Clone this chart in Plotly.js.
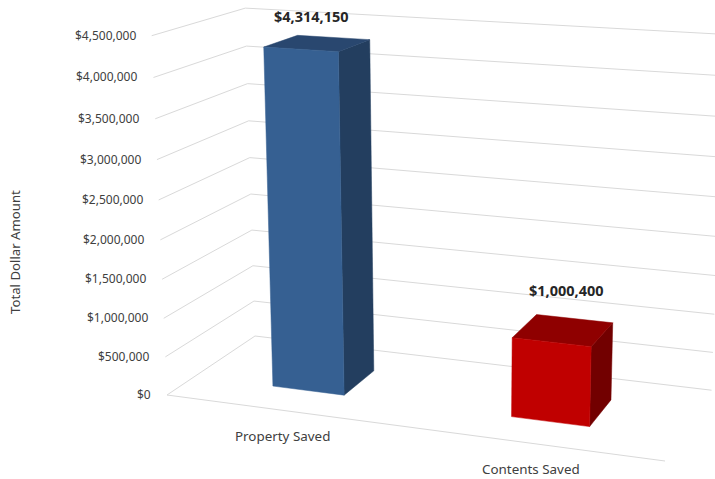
<!DOCTYPE html>
<html>
<head>
<meta charset="utf-8">
<script src="https://cdn.plot.ly/plotly-3.0.1.min.js"></script>
<style>html,body{margin:0;padding:0;background:#fff}</style>
</head>
<body>
<div id="chart" style="width:715px;height:479px"></div>
<script>
// Data
const categories = ["Property Saved", "Contents Saved"];
const values = [4314150, 1000400];
const valueLabels = ["$4,314,150", "$1,000,400"];
const tickValues = [0, 500000, 1000000, 1500000, 2000000, 2500000, 3000000, 3500000, 4000000, 4500000];
const tickLabels = ["$0", "$500,000", "$1,000,000", "$1,500,000", "$2,000,000", "$2,500,000", "$3,000,000", "$3,500,000", "$4,000,000", "$4,500,000"];
const axisTitle = "Total Dollar Amount";
const axisMax = 4500000;

// Styles
const faceColors = [
  {front: "#366092", top: "#29476F", side: "#233E5F"},
  {front: "#C00000", top: "#8F0000", side: "#720000"}
];
const gridColor = "#D9D9D9";
const textColor = "#404040";
const boldColor = "#262626";
const fontFamily = '"Noto Sans", sans-serif';

// Projective camera: u across categories, d depth, v value, all scaled 0..1
const cam = {
  o: [167, 395], uEnd: [665, 461], dEnd: [255, 336], hEnd: [151.7, 35.7],
  a: -0.09, b: 0.10, c: -0.05
};
function project(u, d, v) {
  const h = v / axisMax;
  const w = 1 + cam.a * u + cam.b * d + cam.c * h;
  const coord = i =>
    (cam.o[i]
      + u * ((1 + cam.a) * cam.uEnd[i] - cam.o[i])
      + d * ((1 + cam.b) * cam.dEnd[i] - cam.o[i])
      + h * ((1 + cam.c) * cam.hEnd[i] - cam.o[i])) / w;
  return [coord(0), coord(1)];
}

const traces = [];
function polyline(points, color, width, fill) {
  traces.push({
    type: "scatter", mode: "lines",
    x: points.map(p => p ? p[0] : null),
    y: points.map(p => p ? p[1] : null),
    line: {color: color, width: width},
    fill: fill ? "toself" : "none",
    fillcolor: fill ? color : undefined,
    hoverinfo: "skip", showlegend: false
  });
}

// Gridlines on side wall and back wall, plus the front floor edge
const gridPts = [];
tickValues.forEach(t => {
  gridPts.push(project(0, 0, t), project(0, 1, t), project(1, 1, t), null);
});
gridPts.push(project(0, 0, 0), project(1, 0, 0));
polyline(gridPts, gridColor, 1, false);

// Bars
const barHalfWidth = 0.077, depth0 = 0.30, depth1 = 0.69;
values.forEach((val, i) => {
  const centre = (i + 0.5) / categories.length;
  const u0 = centre - barHalfWidth, u1 = centre + barHalfWidth;
  const col = faceColors[i];
  polyline([project(u1, depth0, 0), project(u1, depth1, 0), project(u1, depth1, val), project(u1, depth0, val), project(u1, depth0, 0)], col.side, 0.5, true);
  polyline([project(u0, depth0, val), project(u1, depth0, val), project(u1, depth1, val), project(u0, depth1, val), project(u0, depth0, val)], col.top, 0.5, true);
  polyline([project(u0, depth0, 0), project(u1, depth0, 0), project(u1, depth0, val), project(u0, depth0, val), project(u0, depth0, 0)], col.front, 0.5, true);
});

// Text
const annotations = [];
function label(text, x, y, size, opts) {
  annotations.push(Object.assign({
    text: text, x: x, y: y, xref: "x", yref: "y", showarrow: false,
    xanchor: "center", yanchor: "middle",
    font: {family: fontFamily, size: size, color: textColor}
  }, opts || {}));
}
tickValues.forEach((t, i) => {
  const p = project(0, 0, t);
  label(tickLabels[i], p[0] - 14, p[1] - 0.5, 12, {xanchor: "right"});
});
const valueLabelOffset = [[-6, -27], [3, -40]];
values.forEach((val, i) => {
  const centre = (i + 0.5) / categories.length;
  const p = project(centre, 0.5, val);
  label("<b>" + valueLabels[i] + "</b>", p[0] + valueLabelOffset[i][0], p[1] + valueLabelOffset[i][1], 14.5,
        {font: {family: fontFamily, size: 14.5, color: boldColor}});
});
const catLabelOffset = [[0, 26], [0, 26]];
categories.forEach((c, i) => {
  const p = project((i + 0.5) / categories.length, 0, 0);
  label(c, p[0] + catLabelOffset[i][0], p[1] + catLabelOffset[i][1], 13.4);
});
label(axisTitle, 15, 252, 13.2, {textangle: -90});

Plotly.newPlot("chart", traces, {
  width: 715, height: 479,
  margin: {l: 0, r: 0, t: 0, b: 0},
  paper_bgcolor: "#fff", plot_bgcolor: "#fff",
  showlegend: false,
  xaxis: {range: [0, 715], visible: false, fixedrange: true},
  yaxis: {range: [479, 0], visible: false, fixedrange: true},
  annotations: annotations
}, {displayModeBar: false, staticPlot: true});
</script>
</body>
</html>
